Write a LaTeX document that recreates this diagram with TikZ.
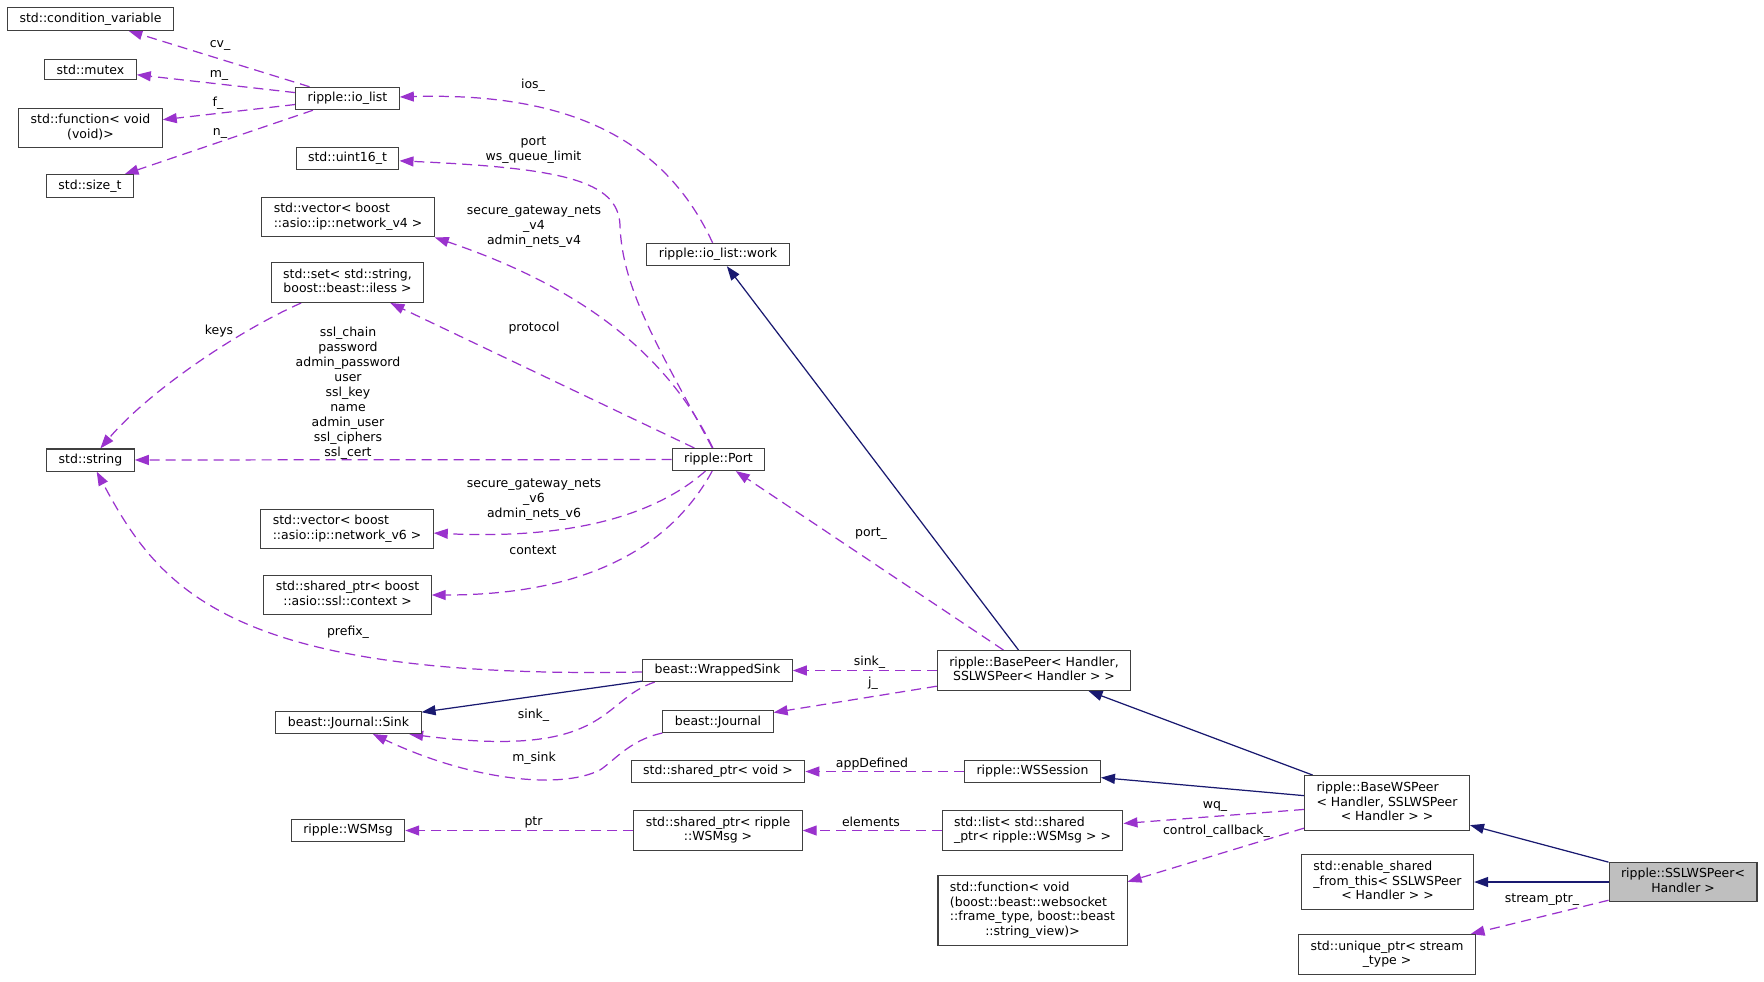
\documentclass[tikz,border=0pt]{standalone}
\usepackage{fontspec}
\setmainfont{DejaVu Sans}
\usetikzlibrary{arrows.meta}
\definecolor{orchid}{HTML}{9A32CD}
\definecolor{navyblue}{HTML}{191970}
\pgfdeclarelayer{edgelayer}
\pgfdeclarelayer{nodelayer}
\pgfsetlayers{edgelayer,nodelayer,main}
\newcommand{\rows}[1]{\begin{tabular}{@{}l@{}}#1\end{tabular}}
\newcommand{\lastrow}[1]{\multicolumn{1}{@{}c@{}}{#1}}
\tikzstyle{cls}=[rectangle, draw=black!75, fill=white, line width=0.6pt, inner xsep=0.24cm, inner ysep=0.1cm, font=\fontsize{7.1}{8.5}\selectfont]
\tikzstyle{current}=[cls, fill=gray!50]
\tikzstyle{role}=[align=center, inner sep=0pt, font=\fontsize{7.1}{8.5}\selectfont]
\tikzstyle{uses}=[-{Triangle[length=0.28cm,width=0.2cm]}, draw=orchid, dash pattern=on 0.2cm off 0.12cm, line width=0.7pt]
\tikzstyle{inherits}=[-{Triangle[length=0.28cm,width=0.2cm]}, draw=navyblue, line width=0.7pt]

\begin{document}
\begin{tikzpicture}
            \useasboundingbox (0, 0) rectangle (35.28, -19.62);
            \begin{pgfonlayer}{nodelayer}
                \node [style=cls] (cv) at (1.81, -0.38) {std::condition\_variable};
                \node [style=cls] (mutex) at (1.81, -1.39) {std::mutex};
                \node [style=cls] (func) at (1.81, -2.56) {\rows{std::function< void\\\lastrow{(void)>}}};
                \node [style=cls] (size) at (1.80, -3.72) {std::size\_t};
                \node [style=cls] (iolist) at (6.95, -1.97) {ripple::io\_list};
                \node [style=cls] (uint16) at (6.95, -3.17) {std::uint16\_t};
                \node [style=cls] (vec4) at (6.96, -4.34) {\rows{std::vector< boost\\\lastrow{::asio::ip::network\_v4 >}}};
                \node [style=cls] (set) at (6.95, -5.65) {\rows{std::set< std::string,\\\lastrow{boost::beast::iless >}}};
                \node [style=cls] (string) at (1.81, -9.20) {std::string};
                \node [style=cls] (port) at (14.37, -9.19) {ripple::Port};
                \node [style=cls] (vec6) at (6.94, -10.58) {\rows{std::vector< boost\\\lastrow{::asio::ip::network\_v6 >}}};
                \node [style=cls] (ctx) at (6.95, -11.90) {\rows{std::shared\_ptr< boost\\\lastrow{::asio::ssl::context >}}};
                \node [style=cls] (work) at (14.36, -5.09) {ripple::io\_list::work};
                \node [style=cls] (wsink) at (14.35, -13.41) {beast::WrappedSink};
                \node [style=cls] (basepeer) at (20.68, -13.41) {\rows{ripple::BasePeer< Handler,\\\lastrow{SSLWSPeer< Handler > >}}};
                \node [style=cls] (jsink) at (6.97, -14.45) {beast::Journal::Sink};
                \node [style=cls] (journal) at (14.36, -14.43) {beast::Journal};
                \node [style=cls] (spvoid) at (14.36, -15.43) {std::shared\_ptr< void >};
                \node [style=cls] (wssession) at (20.65, -15.43) {ripple::WSSession};
                \node [style=cls] (wsmsg) at (6.96, -16.61) {ripple::WSMsg};
                \node [style=cls] (spmsg) at (14.36, -16.61) {\rows{std::shared\_ptr< ripple\\\lastrow{::WSMsg >}}};
                \node [style=cls] (list) at (20.65, -16.61) {\rows{std::list< std::shared\\\lastrow{\_ptr< ripple::WSMsg > >}}};
                \node [style=cls] (basews) at (27.74, -16.06) {\rows{ripple::BaseWSPeer\\< Handler, SSLWSPeer\\\lastrow{< Handler > >}}};
                \node [style=cls] (fn2) at (20.65, -18.21) {\rows{std::function< void\\(boost::beast::websocket\\::frame\_type, boost::beast\\\lastrow{::string\_view)>}}};
                \node [style=cls] (enable) at (27.75, -17.64) {\rows{std::enable\_shared\\\_from\_this< SSLWSPeer\\\lastrow{< Handler > >}}};
                \node [style=current] (sslws) at (33.66, -17.64) {\rows{ripple::SSLWSPeer<\\\lastrow{Handler >}}};
                \node [style=cls] (unique) at (27.74, -19.09) {\rows{std::unique\_ptr< stream\\\lastrow{\_type >}}};

                \node [style=role] (lcv) at (4.40, -0.90) {cv\_};
                \node [style=role] (lm) at (4.38, -1.50) {m\_};
                \node [style=role] (lf) at (4.36, -2.06) {f\_};
                \node [style=role] (ln) at (4.40, -2.66) {n\_};
                \node [style=role] (lios) at (10.66, -1.71) {ios\_};
                \node [style=role] (lport) at (10.67, -3.00) {port\\ws\_queue\_limit};
                \node [style=role] (lnets4) at (10.68, -4.54) {secure\_gateway\_nets\\\_v4\\admin\_nets\_v4};
                \node [style=role] (lprotocol) at (10.68, -6.56) {protocol};
                \node [style=role] (lkeys) at (4.38, -6.63) {keys};
                \node [style=role] (lstrings) at (6.96, -7.86) {ssl\_chain\\password\\admin\_password\\user\\ssl\_key\\name\\admin\_user\\ssl\_ciphers\\ssl\_cert};
                \node [style=role] (lnets6) at (10.68, -9.99) {secure\_gateway\_nets\\\_v6\\admin\_nets\_v6};
                \node [style=role] (lcontext) at (10.66, -11.00) {context};
                \node [style=role] (lprefix) at (6.96, -12.65) {prefix\_};
                \node [style=role] (lsinkb) at (10.67, -14.31) {sink\_};
                \node [style=role] (lmsink) at (10.68, -15.17) {m\_sink};
                \node [style=role] (lport2) at (17.42, -10.67) {port\_};
                \node [style=role] (lsinka) at (17.39, -13.25) {sink\_};
                \node [style=role] (lj) at (17.46, -13.67) {j\_};
                \node [style=role] (lapp) at (17.44, -15.28) {appDefined};
                \node [style=role] (lptr) at (10.67, -16.45) {ptr};
                \node [style=role] (lelements) at (17.42, -16.44) {elements};
                \node [style=role] (lwq) at (24.30, -16.12) {wq\_};
                \node [style=role] (lcontrol) at (24.33, -16.62) {control\_callback\_};
                \node [style=role] (lstream) at (30.84, -18.00) {stream\_ptr\_};
            \end{pgfonlayer}
            \begin{pgfonlayer}{edgelayer}
                \draw [style=uses] (iolist) to (cv);
                \draw [style=uses] (iolist) to (mutex);
                \draw [style=uses] (iolist) to (func);
                \draw [style=uses] (iolist) to (size);
                \draw [style=uses] (work) .. controls (13.30, -2.80) and (11.40, -1.84) .. (iolist);
                \draw [style=uses] (port) .. controls (13.20, -7.00) and (12.44, -5.80) .. (12.40, -4.50) .. controls (12.36, -3.60) and (11.20, -3.36) .. (uint16);
                \draw [style=uses] (port) .. controls (13.40, -7.20) and (11.80, -5.80) .. (vec4.south east);
                \draw [style=uses] (port) to (set);
                \draw [style=uses] (port) to (string);
                \draw [style=uses] (port) .. controls (13.00, -10.40) and (11.20, -10.78) .. (vec6);
                \draw [style=uses] (port) .. controls (13.60, -10.60) and (12.20, -11.90) .. (ctx);
                \draw [style=uses] (set) .. controls (4.80, -6.60) and (3.00, -7.80) .. (string);
                \draw [style=uses] (wsink) .. controls (4.60, -13.60) and (3.20, -11.80) .. (string);
                \draw [style=uses] ([xshift=0.25cm]wsink.south west) .. controls (12.00, -14.00) and (12.20, -15.20) .. ([xshift=-0.25cm]jsink.south east);
                \draw [style=uses] (journal.south west) .. controls (12.60, -14.80) and (12.30, -15.20) .. (12.00, -15.40) .. controls (11.20, -15.80) and (9.40, -15.60) .. (jsink);
                \draw [style=uses] (basepeer) to (port);
                \draw [style=uses] (basepeer) to (wsink);
                \draw [style=uses] (basepeer) to (journal);
                \draw [style=uses] (wssession) to (spvoid);
                \draw [style=uses] (spmsg) to (wsmsg);
                \draw [style=uses] (list) to (spmsg);
                \draw [style=uses] (basews) to (list);
                \draw [style=uses] (basews) to (fn2);
                \draw [style=uses] (sslws) to (unique);
                \draw [style=inherits] (basepeer) to (work);
                \draw [style=inherits] (wsink) to (jsink);
                \draw [style=inherits] (basews) to (basepeer);
                \draw [style=inherits] (basews) to (wssession);
                \draw [style=inherits] (sslws) to (basews);
                \draw [style=inherits] (sslws) to (enable);
            \end{pgfonlayer}
        \end{tikzpicture}
\end{document}
